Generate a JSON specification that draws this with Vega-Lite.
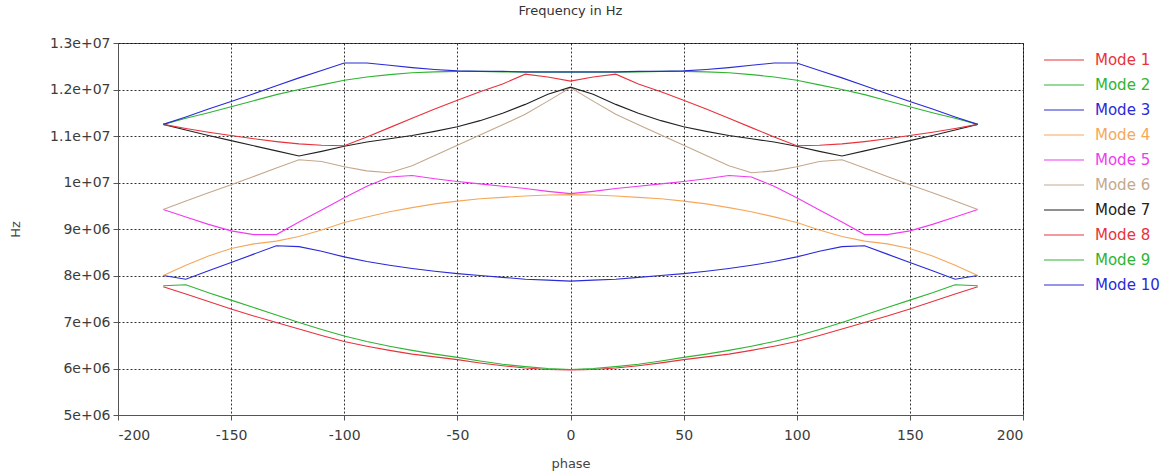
{
  "$schema": "https://vega.github.io/schema/vega-lite/v6.json",
  "autosize": {"type": "none"},
  "padding": {"left": 118, "top": 43, "right": 144, "bottom": 58},
  "width": 905,
  "height": 372,
  "background": "#ffffff",
  "title": {
    "text": "Frequency in Hz",
    "frame": "group",
    "anchor": "middle",
    "offset": 18,
    "fontSize": 13,
    "fontWeight": "normal",
    "font": "DejaVu Sans",
    "color": "#333333"
  },
  "config": {
    "font": "DejaVu Sans",
    "view": {"stroke": "#555555", "strokeWidth": 1},
    "axis": {
      "labelFont": "DejaVu Sans",
      "labelFontSize": 14,
      "labelColor": "#3c3c3c",
      "titleFont": "DejaVu Sans",
      "titleFontSize": 13,
      "titleFontWeight": "normal",
      "titleColor": "#444444",
      "domainColor": "#555555",
      "tickColor": "#555555",
      "tickSize": 5,
      "grid": true,
      "gridColor": "#000000",
      "gridOpacity": 0.8,
      "gridDash": [2, 2],
      "gridWidth": 1
    }
  },
  "data": {
    "values": [
      {"phase": -180, "Mode 1": 7760000, "Mode 2": 7780000, "Mode 3": 8000000, "Mode 4": 8000000, "Mode 5": 9420000, "Mode 6": 9420000, "Mode 7": 11250000, "Mode 8": 11250000, "Mode 9": 11250000, "Mode 10": 11250000},
      {"phase": -170, "Mode 1": 7600000, "Mode 2": 7800000, "Mode 3": 7920000, "Mode 4": 8220000, "Mode 5": 9260000, "Mode 6": 9600000, "Mode 7": 11130000, "Mode 8": 11160000, "Mode 9": 11380000, "Mode 10": 11410000},
      {"phase": -160, "Mode 1": 7440000, "Mode 2": 7630000, "Mode 3": 8100000, "Mode 4": 8420000, "Mode 5": 9100000, "Mode 6": 9780000, "Mode 7": 11010000, "Mode 8": 11080000, "Mode 9": 11500000, "Mode 10": 11580000},
      {"phase": -150, "Mode 1": 7280000, "Mode 2": 7470000, "Mode 3": 8280000, "Mode 4": 8580000, "Mode 5": 8960000, "Mode 6": 9950000, "Mode 7": 10900000, "Mode 8": 11010000, "Mode 9": 11630000, "Mode 10": 11740000},
      {"phase": -140, "Mode 1": 7130000, "Mode 2": 7310000, "Mode 3": 8460000, "Mode 4": 8680000, "Mode 5": 8880000, "Mode 6": 10130000, "Mode 7": 10790000, "Mode 8": 10940000, "Mode 9": 11760000, "Mode 10": 11910000},
      {"phase": -130, "Mode 1": 6990000, "Mode 2": 7150000, "Mode 3": 8640000, "Mode 4": 8740000, "Mode 5": 8880000, "Mode 6": 10310000, "Mode 7": 10680000, "Mode 8": 10880000, "Mode 9": 11890000, "Mode 10": 12080000},
      {"phase": -120, "Mode 1": 6850000, "Mode 2": 6990000, "Mode 3": 8620000, "Mode 4": 8840000, "Mode 5": 9150000, "Mode 6": 10490000, "Mode 7": 10570000, "Mode 8": 10830000, "Mode 9": 12000000, "Mode 10": 12250000},
      {"phase": -110, "Mode 1": 6710000, "Mode 2": 6840000, "Mode 3": 8520000, "Mode 4": 8980000, "Mode 5": 9410000, "Mode 6": 10450000, "Mode 7": 10670000, "Mode 8": 10800000, "Mode 9": 12100000, "Mode 10": 12410000},
      {"phase": -100, "Mode 1": 6580000, "Mode 2": 6700000, "Mode 3": 8400000, "Mode 4": 9140000, "Mode 5": 9670000, "Mode 6": 10340000, "Mode 7": 10780000, "Mode 8": 10790000, "Mode 9": 12200000, "Mode 10": 12570000},
      {"phase": -90, "Mode 1": 6480000, "Mode 2": 6580000, "Mode 3": 8300000, "Mode 4": 9260000, "Mode 5": 9920000, "Mode 6": 10250000, "Mode 7": 10870000, "Mode 8": 10980000, "Mode 9": 12270000, "Mode 10": 12570000},
      {"phase": -80, "Mode 1": 6390000, "Mode 2": 6480000, "Mode 3": 8220000, "Mode 4": 9370000, "Mode 5": 10120000, "Mode 6": 10210000, "Mode 7": 10940000, "Mode 8": 11180000, "Mode 9": 12320000, "Mode 10": 12520000},
      {"phase": -70, "Mode 1": 6310000, "Mode 2": 6390000, "Mode 3": 8150000, "Mode 4": 9460000, "Mode 5": 10150000, "Mode 6": 10360000, "Mode 7": 11010000, "Mode 8": 11380000, "Mode 9": 12360000, "Mode 10": 12470000},
      {"phase": -60, "Mode 1": 6250000, "Mode 2": 6310000, "Mode 3": 8090000, "Mode 4": 9540000, "Mode 5": 10080000, "Mode 6": 10580000, "Mode 7": 11100000, "Mode 8": 11580000, "Mode 9": 12380000, "Mode 10": 12430000},
      {"phase": -50, "Mode 1": 6190000, "Mode 2": 6240000, "Mode 3": 8040000, "Mode 4": 9600000, "Mode 5": 10020000, "Mode 6": 10800000, "Mode 7": 11200000, "Mode 8": 11770000, "Mode 9": 12390000, "Mode 10": 12400000},
      {"phase": -40, "Mode 1": 6120000, "Mode 2": 6160000, "Mode 3": 8000000, "Mode 4": 9650000, "Mode 5": 9970000, "Mode 6": 11020000, "Mode 7": 11330000, "Mode 8": 11950000, "Mode 9": 12390000, "Mode 10": 12390000},
      {"phase": -30, "Mode 1": 6060000, "Mode 2": 6090000, "Mode 3": 7960000, "Mode 4": 9680000, "Mode 5": 9920000, "Mode 6": 11240000, "Mode 7": 11490000, "Mode 8": 12120000, "Mode 9": 12380000, "Mode 10": 12390000},
      {"phase": -20, "Mode 1": 6010000, "Mode 2": 6040000, "Mode 3": 7920000, "Mode 4": 9710000, "Mode 5": 9870000, "Mode 6": 11470000, "Mode 7": 11680000, "Mode 8": 12330000, "Mode 9": 12370000, "Mode 10": 12380000},
      {"phase": -10, "Mode 1": 5980000, "Mode 2": 6000000, "Mode 3": 7900000, "Mode 4": 9730000, "Mode 5": 9810000, "Mode 6": 11750000, "Mode 7": 11900000, "Mode 8": 12270000, "Mode 9": 12370000, "Mode 10": 12380000},
      {"phase": 0, "Mode 1": 5970000, "Mode 2": 5980000, "Mode 3": 7880000, "Mode 4": 9740000, "Mode 5": 9760000, "Mode 6": 12040000, "Mode 7": 12050000, "Mode 8": 12180000, "Mode 9": 12370000, "Mode 10": 12380000},
      {"phase": 10, "Mode 1": 5980000, "Mode 2": 6000000, "Mode 3": 7900000, "Mode 4": 9730000, "Mode 5": 9810000, "Mode 6": 11750000, "Mode 7": 11900000, "Mode 8": 12270000, "Mode 9": 12370000, "Mode 10": 12380000},
      {"phase": 20, "Mode 1": 6010000, "Mode 2": 6040000, "Mode 3": 7920000, "Mode 4": 9710000, "Mode 5": 9870000, "Mode 6": 11470000, "Mode 7": 11680000, "Mode 8": 12330000, "Mode 9": 12370000, "Mode 10": 12380000},
      {"phase": 30, "Mode 1": 6060000, "Mode 2": 6090000, "Mode 3": 7960000, "Mode 4": 9680000, "Mode 5": 9920000, "Mode 6": 11240000, "Mode 7": 11490000, "Mode 8": 12120000, "Mode 9": 12380000, "Mode 10": 12390000},
      {"phase": 40, "Mode 1": 6120000, "Mode 2": 6160000, "Mode 3": 8000000, "Mode 4": 9650000, "Mode 5": 9970000, "Mode 6": 11020000, "Mode 7": 11330000, "Mode 8": 11950000, "Mode 9": 12390000, "Mode 10": 12390000},
      {"phase": 50, "Mode 1": 6190000, "Mode 2": 6240000, "Mode 3": 8040000, "Mode 4": 9600000, "Mode 5": 10020000, "Mode 6": 10800000, "Mode 7": 11200000, "Mode 8": 11770000, "Mode 9": 12390000, "Mode 10": 12400000},
      {"phase": 60, "Mode 1": 6250000, "Mode 2": 6310000, "Mode 3": 8090000, "Mode 4": 9540000, "Mode 5": 10080000, "Mode 6": 10580000, "Mode 7": 11100000, "Mode 8": 11580000, "Mode 9": 12380000, "Mode 10": 12430000},
      {"phase": 70, "Mode 1": 6310000, "Mode 2": 6390000, "Mode 3": 8150000, "Mode 4": 9460000, "Mode 5": 10150000, "Mode 6": 10360000, "Mode 7": 11010000, "Mode 8": 11380000, "Mode 9": 12360000, "Mode 10": 12470000},
      {"phase": 80, "Mode 1": 6390000, "Mode 2": 6480000, "Mode 3": 8220000, "Mode 4": 9370000, "Mode 5": 10120000, "Mode 6": 10210000, "Mode 7": 10940000, "Mode 8": 11180000, "Mode 9": 12320000, "Mode 10": 12520000},
      {"phase": 90, "Mode 1": 6480000, "Mode 2": 6580000, "Mode 3": 8300000, "Mode 4": 9260000, "Mode 5": 9920000, "Mode 6": 10250000, "Mode 7": 10870000, "Mode 8": 10980000, "Mode 9": 12270000, "Mode 10": 12570000},
      {"phase": 100, "Mode 1": 6580000, "Mode 2": 6700000, "Mode 3": 8400000, "Mode 4": 9140000, "Mode 5": 9670000, "Mode 6": 10340000, "Mode 7": 10780000, "Mode 8": 10790000, "Mode 9": 12200000, "Mode 10": 12570000},
      {"phase": 110, "Mode 1": 6710000, "Mode 2": 6840000, "Mode 3": 8520000, "Mode 4": 8980000, "Mode 5": 9410000, "Mode 6": 10450000, "Mode 7": 10670000, "Mode 8": 10800000, "Mode 9": 12100000, "Mode 10": 12410000},
      {"phase": 120, "Mode 1": 6850000, "Mode 2": 6990000, "Mode 3": 8620000, "Mode 4": 8840000, "Mode 5": 9150000, "Mode 6": 10490000, "Mode 7": 10570000, "Mode 8": 10830000, "Mode 9": 12000000, "Mode 10": 12250000},
      {"phase": 130, "Mode 1": 6990000, "Mode 2": 7150000, "Mode 3": 8640000, "Mode 4": 8740000, "Mode 5": 8880000, "Mode 6": 10310000, "Mode 7": 10680000, "Mode 8": 10880000, "Mode 9": 11890000, "Mode 10": 12080000},
      {"phase": 140, "Mode 1": 7130000, "Mode 2": 7310000, "Mode 3": 8460000, "Mode 4": 8680000, "Mode 5": 8880000, "Mode 6": 10130000, "Mode 7": 10790000, "Mode 8": 10940000, "Mode 9": 11760000, "Mode 10": 11910000},
      {"phase": 150, "Mode 1": 7280000, "Mode 2": 7470000, "Mode 3": 8280000, "Mode 4": 8580000, "Mode 5": 8960000, "Mode 6": 9950000, "Mode 7": 10900000, "Mode 8": 11010000, "Mode 9": 11630000, "Mode 10": 11740000},
      {"phase": 160, "Mode 1": 7440000, "Mode 2": 7630000, "Mode 3": 8100000, "Mode 4": 8420000, "Mode 5": 9100000, "Mode 6": 9780000, "Mode 7": 11010000, "Mode 8": 11080000, "Mode 9": 11500000, "Mode 10": 11580000},
      {"phase": 170, "Mode 1": 7600000, "Mode 2": 7800000, "Mode 3": 7920000, "Mode 4": 8220000, "Mode 5": 9260000, "Mode 6": 9600000, "Mode 7": 11130000, "Mode 8": 11160000, "Mode 9": 11380000, "Mode 10": 11410000},
      {"phase": 180, "Mode 1": 7760000, "Mode 2": 7780000, "Mode 3": 8000000, "Mode 4": 8000000, "Mode 5": 9420000, "Mode 6": 9420000, "Mode 7": 11250000, "Mode 8": 11250000, "Mode 9": 11250000, "Mode 10": 11250000}
    ]
  },
  "transform": [
    {"fold": ["Mode 1", "Mode 2", "Mode 3", "Mode 4", "Mode 5", "Mode 6", "Mode 7", "Mode 8", "Mode 9", "Mode 10"], "as": ["mode", "hz"]}
  ],
  "mark": {"type": "line", "strokeWidth": 1.1, "interpolate": "linear"},
  "encoding": {
    "x": {
      "field": "phase",
      "type": "quantitative",
      "title": "phase",
      "scale": {"domain": [-200, 200], "nice": false, "zero": false},
      "axis": {
        "values": [-200, -150, -100, -50, 0, 50, 100, 150, 200],
        "labelExpr": "'' + datum.value",
        "labelPadding": 8,
        "titleX": 452.5,
        "titleY": 48,
        "titleBaseline": "middle",
        "titleAlign": "center"
      }
    },
    "y": {
      "field": "hz",
      "type": "quantitative",
      "title": "Hz",
      "scale": {"domain": [5000000, 13000000], "nice": false, "zero": false},
      "axis": {
        "values": [5000000, 6000000, 7000000, 8000000, 9000000, 10000000, 11000000, 12000000, 13000000],
        "labelExpr": "datum.value >= 10000000 ? format(datum.value / 10000000, '~g') + 'e+07' : format(datum.value / 1000000, '~g') + 'e+06'",
        "labelPadding": 3,
        "titleX": -103,
        "titleY": 186,
        "titleAngle": -90,
        "titleAlign": "center",
        "titleBaseline": "middle"
      }
    },
    "color": {
      "field": "mode",
      "type": "nominal",
      "scale": {
        "domain": ["Mode 1", "Mode 2", "Mode 3", "Mode 4", "Mode 5", "Mode 6", "Mode 7", "Mode 8", "Mode 9", "Mode 10"],
        "range": ["#e8323c", "#2eb432", "#2a2ad8", "#f5a85a", "#f03cf0", "#c4a88c", "#222222", "#e8323c", "#2eb432", "#2a2ad8"]
      },
      "legend": {
        "title": null,
        "orient": "none",
        "legendX": 925,
        "legendY": 4.5,
        "padding": 0,
        "symbolType": "stroke",
        "symbolSize": 1600,
        "symbolStrokeWidth": 1.2,
        "clipHeight": 25,
        "rowPadding": 0,
        "labelOffset": 10,
        "labelFont": "DejaVu Sans",
        "labelFontSize": 15,
        "encode": {
          "labels": {"update": {"fill": {"scale": "color", "field": "value"}}}
        }
      }
    }
  }
}
